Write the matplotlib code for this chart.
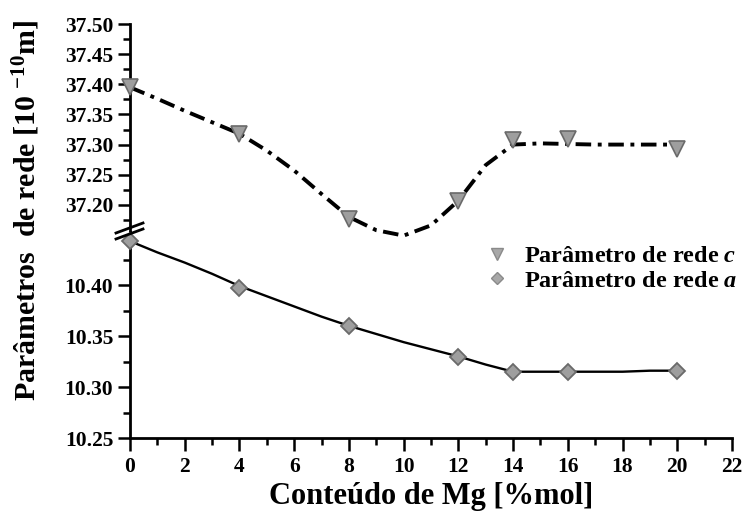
import matplotlib
matplotlib.use("Agg")
import matplotlib.pyplot as plt
from matplotlib.lines import Line2D
from matplotlib.ticker import MultipleLocator, FixedLocator, FormatStrFormatter

plt.rcParams['font.family'] = ['Liberation Serif', 'DejaVu Serif']
plt.rcParams['font.weight'] = 'bold'
plt.rcParams['mathtext.fontset'] = 'custom'
plt.rcParams['mathtext.rm'] = 'Liberation Serif:bold'
plt.rcParams['mathtext.it'] = 'Liberation Serif:bold:italic'
plt.rcParams['mathtext.bf'] = 'Liberation Serif:bold'

# Measured lattice parameters vs Mg content
mg_content = [0, 4, 8, 12, 14, 16, 20]
param_c = [37.395, 37.318, 37.176, 37.207, 37.307, 37.310, 37.293]
param_a = [10.443, 10.397, 10.360, 10.329, 10.315, 10.315, 10.316]

# Fitted trend curves
fit_x = [0, 1, 2, 3, 4, 5, 6, 7, 8, 9, 10, 11, 12, 13, 14, 15, 16, 17, 18, 19, 20]
fit_c = [37.395, 37.376, 37.356, 37.337, 37.318, 37.290, 37.257, 37.218, 37.180,
         37.158, 37.149, 37.166, 37.207, 37.266, 37.300, 37.302, 37.301, 37.300,
         37.300, 37.300, 37.300]
fit_a = [10.443, 10.432, 10.422, 10.411, 10.399, 10.389, 10.379, 10.369, 10.360,
         10.352, 10.344, 10.337, 10.330, 10.322, 10.315, 10.315, 10.315, 10.315,
         10.315, 10.316, 10.316]

x_ticks = [0, 2, 4, 6, 8, 10, 12, 14, 16, 18, 20, 22]
c_ticks = [37.20, 37.25, 37.30, 37.35, 37.40, 37.45, 37.50]
a_ticks = [10.25, 10.30, 10.35, 10.40]

W, H = 745, 513
fig = plt.figure(figsize=(W / 100, H / 100), dpi=100)

left, right = 130 / W, 732 / W
y_top, y_mid, y_bot = 1 - 24 / H, 1 - 232 / H, 1 - 438 / H

ax_c = fig.add_axes([left, y_mid, right - left, y_top - y_mid])
ax_a = fig.add_axes([left, y_bot, right - left, y_mid - y_bot])

marker_face = '#9e9e9e'
marker_edge = '#6a6a6a'

# Upper panel: parameter c
ax_c.plot(fit_x, fit_c, color='black', lw=2.8, dashes=(4.0, 1.7, 1, 1.7), clip_on=False,
          zorder=2)
ax_c.plot(mg_content, param_c, ls='none', marker='v', ms=11, mfc=marker_face,
          mec=marker_edge, mew=1.2, zorder=3, clip_on=False)
ax_c.set_xlim(0, 22)
ax_c.set_ylim(37.155, 37.50)

# Lower panel: parameter a
ax_a.plot(fit_x, fit_a, color='black', lw=1.7, zorder=2)
ax_a.plot(mg_content, param_a, ls='none', marker='D', ms=8.5, mfc=marker_face,
          mec=marker_edge, mew=1.3, zorder=3, clip_on=False)
ax_a.set_xlim(0, 22)
ax_a.set_ylim(10.25, 10.452)

for ax in (ax_c, ax_a):
    ax.set_facecolor('none')
    for s in ('top', 'right'):
        ax.spines[s].set_visible(False)
    ax.spines['left'].set_linewidth(2.0)
    ax.tick_params(axis='y', which='major', direction='out', length=9, width=1.8,
                   labelsize=15.5, pad=3)
    ax.tick_params(axis='y', which='minor', direction='out', length=5, width=1.8)

ax_c.spines['bottom'].set_visible(False)
ax_c.tick_params(axis='x', which='both', bottom=False, labelbottom=False)
ax_c.yaxis.set_major_locator(FixedLocator(c_ticks))
ax_c.yaxis.set_minor_locator(FixedLocator([37.175, 37.225, 37.275, 37.325, 37.375,
                                           37.425, 37.475]))
ax_c.yaxis.set_major_formatter(FormatStrFormatter('%.2f'))

ax_a.spines['bottom'].set_linewidth(2.0)
ax_a.yaxis.set_major_locator(FixedLocator(a_ticks))
ax_a.yaxis.set_minor_locator(FixedLocator([10.275, 10.325, 10.375, 10.425]))
ax_a.yaxis.set_major_formatter(FormatStrFormatter('%.2f'))
ax_a.xaxis.set_major_locator(FixedLocator(x_ticks))
ax_a.xaxis.set_minor_locator(MultipleLocator(1))
ax_a.tick_params(axis='x', which='major', direction='out', length=9, width=1.8,
                 labelsize=15.5, pad=5)
ax_a.tick_params(axis='x', which='minor', direction='out', length=5, width=1.8)

ax_a.set_xlabel('Conteúdo de Mg [%mol]', fontsize=22, fontweight='bold', labelpad=3)
fig.text(26 / W, 1 - 210 / H, 'Parâmetros  de rede [10 $^{-10}$m]', rotation=90,
         fontsize=21.5, fontweight='bold', ha='center', va='center')

# Axis break marks on the left spine
for y0 in (233, 239):
    fig.add_artist(Line2D([116 / W, 143 / W], [1 - y0 / H, 1 - (y0 - 10) / H],
                          color='black', lw=2.0, transform=fig.transFigure))

# Legend
handles = [
    Line2D([], [], ls='none', marker='v', ms=8, mfc='#a8a8a8', mec='#8a8a8a', mew=1),
    Line2D([], [], ls='none', marker='D', ms=6, mfc='#a8a8a8', mec='#8a8a8a', mew=1),
]
fig.legend(handles, ['Parâmetro de rede $c$', 'Parâmetro de rede $a$'],
           loc='upper left', bbox_to_anchor=(485 / W, 1 - 245 / H), frameon=False,
           prop={'size': 17.5, 'weight': 'bold'}, handlelength=1.0, handletextpad=0.6,
           labelspacing=0.12, borderpad=0, borderaxespad=0)

fig.savefig('out.png', dpi=100)
